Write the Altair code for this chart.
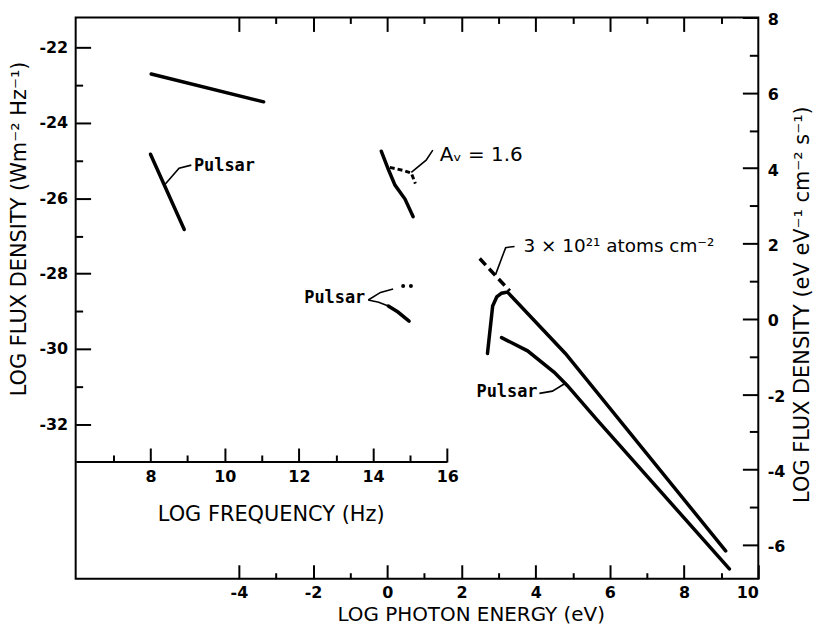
import altair as alt
import pandas as pd

# ---------------- axis ranges ----------------
energy_domain = [-8.4, 10.0]          # log photon energy (eV)
freq_domain = [5.983, 24.383]         # log frequency (Hz) = log E + 14.383
left_domain = [-36.1, -21.2]          # log flux density (W m-2 Hz-1)
right_domain = [-6.9, 8.0]            # log flux density (eV eV-1 cm-2 s-1)

# ---------------- tick values ----------------
left_major = [-32, -30, -28, -26, -24, -22]
left_minor = [-31, -29, -27, -25, -23]
freq_major = [8, 10, 12, 14, 16]
freq_minor = [7, 9, 11, 13, 15]
energy_major = [-4, -2, 0, 2, 4, 6, 8, 10]
energy_minor = [-3, -1, 1, 3, 5, 7, 9]
top_major = [-4, -2, 0, 2, 4, 6, 8]
right_major = [-6, -4, -2, 0, 2, 4, 6, 8]
right_minor = [-5, -3, -1, 1, 3, 5, 7]
freq_axis_range = [6, 16]
freq_axis_level = -33

# ---------------- radio / optical (log frequency, left flux) ----------------
radio_crab_f = [8.02, 11.05]
radio_crab_L = [-22.70, -23.44]
radio_psr_f = [8.00, 8.91]
radio_psr_L = [-24.83, -26.83]
opt_crab_f = [14.22, 14.41, 14.59, 14.86, 15.08]
opt_crab_L = [-24.75, -25.23, -25.65, -26.02, -26.49]
opt_dered_f = [14.45, 14.81, 15.03, 15.14]
opt_dered_L = [-25.18, -25.26, -25.33, -25.61]
opt_psr_f = [14.41, 14.67, 14.97]
opt_psr_L = [-28.86, -29.02, -29.26]
opt_psr_dots_f = [14.81, 15.02]
opt_psr_dots_L = [-28.33, -28.33]

# leaders (log frequency, left flux)
lead_radio_psr_f = [9.10, 8.77, 8.40]
lead_radio_psr_L = [-25.12, -25.20, -25.62]
lead_av_f = [15.61, 15.43, 15.03]
lead_av_L = [-24.72, -24.99, -25.31]
lead_opt_psr_up_f = [13.87, 14.20, 14.54]
lead_opt_psr_up_L = [-28.70, -28.50, -28.41]
lead_opt_psr_dn_f = [13.87, 14.15, 14.41]
lead_opt_psr_dn_L = [-28.70, -28.76, -28.86]

# ---------------- X-ray (log photon energy, right flux) ----------------
xray_crab_E = [2.70, 2.84, 2.95, 3.08, 3.24, 4.80, 9.12]
xray_crab_R = [-0.92, 0.34, 0.58, 0.68, 0.71, -0.92, -6.16]
xray_unabs_E = [2.49, 3.30]
xray_unabs_R = [1.60, 0.74]
xray_psr_E = [3.08, 3.78, 4.50, 4.85, 5.66, 9.22]
xray_psr_R = [-0.50, -0.85, -1.42, -1.77, -2.69, -6.64]

lead_nh_E = [3.43, 3.19, 2.92]
lead_nh_R = [1.92, 1.89, 1.18]
lead_xpsr_E = [4.10, 4.45, 4.80]
lead_xpsr_R = [-1.98, -1.92, -1.71]

# ---------------- labels ----------------
label_psr_texts = ["Pulsar", "Pulsar"]
label_psr_f = [9.17, 13.79]
label_psr_L = [-25.15, -28.65]
label_av_text = ["A\u1d65 = 1.6"]
label_av_f = [15.80]
label_av_L = [-24.86]
label_nh_text = ["3 \u00d7 10\u00b2\u00b9 atoms cm\u207b\u00b2"]
label_nh_E = [3.67]
label_nh_R = [1.92]
label_xpsr_text = ["Pulsar"]
label_xpsr_E = [4.05]
label_xpsr_R = [-1.95]

# ---------------- layout constants ----------------
W, H = 686, 564
TFONT = "DejaVu Sans"
MONO = "DejaVu Sans Mono"
HYPHEN = "datum.value < 0 ? '-' + format(-datum.value, 'd') : format(datum.value, 'd')"
freq_gap = H * (freq_axis_level - left_domain[0]) / (left_domain[1] - left_domain[0])


def segs(items):
    rows = []
    for name, xs, ys in items:
        for i, (a, b) in enumerate(zip(xs, ys)):
            rows.append({"seg": name, "order": i, "x": a, "y": b})
    return pd.DataFrame(rows)


FREQ = alt.Scale(domain=freq_domain, nice=False, zero=False)
ENERGY = alt.Scale(domain=energy_domain, nice=False, zero=False)
LEFT = alt.Scale(domain=left_domain, nice=False, zero=False)
RIGHT = alt.Scale(domain=right_domain, nice=False, zero=False)


def X(scale, axis=None):
    return alt.X("x:Q", scale=scale, axis=axis)


def Y(scale, axis=None):
    return alt.Y("y:Q", scale=scale, axis=axis)


# ---------------- axes (ticks point into the frame) ----------------
ax_left_labels = alt.Axis(orient="left", values=left_major, tickSize=0, labelExpr=HYPHEN,
                          labelPadding=8,
                          title="LOG FLUX DENSITY (Wm\u207b\u00b2 Hz\u207b\u00b9)",
                          titleX=-56, titleY=212, titleAlign="center", titleBaseline="middle")
ax_left_ticks = alt.Axis(orient="right", values=left_major, tickSize=15, offset=-W,
                         labels=False, title=None)
ax_left_minor = alt.Axis(orient="right", values=left_minor, tickSize=7, offset=-W,
                         labels=False, title=None)
ax_freq_major = alt.Axis(orient="bottom", values=freq_major, tickSize=14,
                         offset=-(freq_gap + 14), labelPadding=7,
                         title="LOG FREQUENCY (Hz)", titleX=196, titleY=67,
                         titleAlign="center", titleBaseline="middle")
ax_freq_minor = alt.Axis(orient="bottom", values=freq_minor, tickSize=7,
                         offset=-(freq_gap + 7), labels=False, title=None)
ax_energy_major = alt.Axis(orient="bottom", values=energy_major, tickSize=14, offset=-14,
                           labelExpr=HYPHEN, labelPadding=6,
                           title="LOG PHOTON ENERGY (eV)", titleX=397, titleY=50,
                           titleAlign="center", titleBaseline="middle", titleFontSize=20)
ax_energy_minor = alt.Axis(orient="bottom", values=energy_minor, tickSize=6, offset=-6,
                           labels=False, title=None)
ax_top_major = alt.Axis(orient="bottom", values=top_major, tickSize=14, offset=-H,
                        labels=False, title=None)
ax_top_minor = alt.Axis(orient="bottom", values=energy_minor, tickSize=6, offset=-H,
                        labels=False, title=None)
ax_right_major = alt.Axis(orient="right", values=right_major, tickSize=16, offset=-16,
                          labelExpr=HYPHEN, labelPadding=9, labelOffset=2,
                          title="LOG FLUX DENSITY (eV eV\u207b\u00b9 cm\u207b\u00b2 s\u207b\u00b9)",
                          titleX=60, titleY=288, titleAngle=270,
                          titleAlign="center", titleBaseline="middle")
ax_right_minor = alt.Axis(orient="right", values=right_minor, tickSize=9, offset=-9,
                          labels=False, title=None)

# ---------------- data tables ----------------
fl_solid = segs([
    ("radio_crab", radio_crab_f, radio_crab_L),
    ("radio_psr", radio_psr_f, radio_psr_L),
    ("opt_crab", opt_crab_f, opt_crab_L),
    ("opt_psr", opt_psr_f, opt_psr_L),
])
fl_dashed = segs([("opt_dered", opt_dered_f, opt_dered_L)])
fl_leaders = segs([
    ("l1", lead_radio_psr_f, lead_radio_psr_L),
    ("l2", lead_av_f, lead_av_L),
    ("l3", lead_opt_psr_up_f, lead_opt_psr_up_L),
    ("l4", lead_opt_psr_dn_f, lead_opt_psr_dn_L),
])
fl_dots = pd.DataFrame({"x": opt_psr_dots_f, "y": opt_psr_dots_L})
freq_axis_line = pd.DataFrame({"x": [freq_axis_range[0]], "x2": [freq_axis_range[1]],
                               "y": [freq_axis_level]})
fl_psr_text = pd.DataFrame({"x": label_psr_f, "y": label_psr_L, "t": label_psr_texts,
                            "a": ["left", "right"]})
fl_av_text = pd.DataFrame({"x": label_av_f, "y": label_av_L, "t": label_av_text})

er_solid = segs([("crab", xray_crab_E, xray_crab_R), ("psr", xray_psr_E, xray_psr_R)])
er_dashed = segs([("unabs", xray_unabs_E, xray_unabs_R)])
er_leaders = segs([("n1", lead_nh_E, lead_nh_R), ("n2", lead_xpsr_E, lead_xpsr_R)])
er_nh_text = pd.DataFrame({"x": label_nh_E, "y": label_nh_R, "t": label_nh_text})
er_psr_text = pd.DataFrame({"x": label_xpsr_E, "y": label_xpsr_R, "t": label_xpsr_text})

# ---------------- layers ----------------
l_fl_solid = alt.Chart(fl_solid).mark_line(color="black", strokeWidth=3.5, strokeCap="round").encode(
    x=X(FREQ, ax_freq_major), y=Y(LEFT, ax_left_labels), detail="seg:N", order="order:Q")
l_fl_dashed = alt.Chart(fl_dashed).mark_line(color="black", strokeWidth=3, strokeDash=[5, 3]).encode(
    x=X(FREQ, ax_freq_minor), y=Y(LEFT, ax_left_ticks), order="order:Q")
l_freq_line = alt.Chart(freq_axis_line).mark_rule(color="black", strokeWidth=2).encode(
    x=X(FREQ), x2="x2:Q", y=Y(LEFT, ax_left_minor))
l_fl_leaders = alt.Chart(fl_leaders).mark_line(color="black", strokeWidth=1.6).encode(
    x=X(FREQ), y=Y(LEFT), detail="seg:N", order="order:Q")
l_fl_dots = alt.Chart(fl_dots).mark_circle(color="black", size=16, opacity=1).encode(
    x=X(FREQ), y=Y(LEFT))
l_fl_psr_left = alt.Chart(fl_psr_text).transform_filter("datum.a == 'left'").mark_text(
    align="left", baseline="middle", font=MONO, fontSize=17, fontWeight="bold", color="black").encode(
    x=X(FREQ), y=Y(LEFT), text="t:N")
l_fl_psr_right = alt.Chart(fl_psr_text).transform_filter("datum.a == 'right'").mark_text(
    align="right", baseline="middle", font=MONO, fontSize=17, fontWeight="bold", color="black").encode(
    x=X(FREQ), y=Y(LEFT), text="t:N")
l_fl_av = alt.Chart(fl_av_text).mark_text(
    align="left", baseline="middle", font=TFONT, fontSize=20, color="black").encode(
    x=X(FREQ), y=Y(LEFT), text="t:N")

l_er_solid = alt.Chart(er_solid).mark_line(color="black", strokeWidth=3.5, strokeCap="round").encode(
    x=X(ENERGY, ax_energy_major), y=Y(RIGHT, ax_right_major), detail="seg:N", order="order:Q")
l_er_dashed = alt.Chart(er_dashed).mark_line(color="black", strokeWidth=3.5, strokeDash=[9, 5]).encode(
    x=X(ENERGY, ax_energy_minor), y=Y(RIGHT, ax_right_minor), order="order:Q")
l_er_leaders = alt.Chart(er_leaders).mark_line(color="black", strokeWidth=1.6).encode(
    x=X(ENERGY, ax_top_major), y=Y(RIGHT), detail="seg:N", order="order:Q")
l_er_psr = alt.Chart(er_psr_text).mark_text(
    align="right", baseline="middle", font=MONO, fontSize=17, fontWeight="bold", color="black").encode(
    x=X(ENERGY, ax_top_minor), y=Y(RIGHT), text="t:N")
l_er_nh = alt.Chart(er_nh_text).mark_text(
    align="left", baseline="middle", font=TFONT, fontSize=18.5, color="black").encode(
    x=X(ENERGY), y=Y(RIGHT), text="t:N")

chart = alt.layer(
    l_fl_solid, l_fl_dashed, l_freq_line, l_fl_leaders, l_fl_dots,
    l_fl_psr_left, l_fl_psr_right, l_fl_av,
    l_er_solid, l_er_dashed, l_er_leaders, l_er_psr, l_er_nh,
).resolve_scale(x="independent", y="independent").properties(
    width=W, height=H,
    autosize=alt.AutoSizeParams(type="none"),
    padding={"left": 68, "top": 8, "right": 60, "bottom": 46},
    background="white",
).configure_view(
    stroke="black", strokeWidth=2
).configure_axis(
    grid=False, domain=False, tickColor="black", tickWidth=2,
    labelColor="black", titleColor="black",
    labelFont=TFONT, labelFontSize=16, labelFontWeight="bold",
    titleFont=TFONT, titleFontSize=21, titleFontWeight="normal",
)

chart.save("out.html", embed_options={"renderer": "svg", "actions": False})
